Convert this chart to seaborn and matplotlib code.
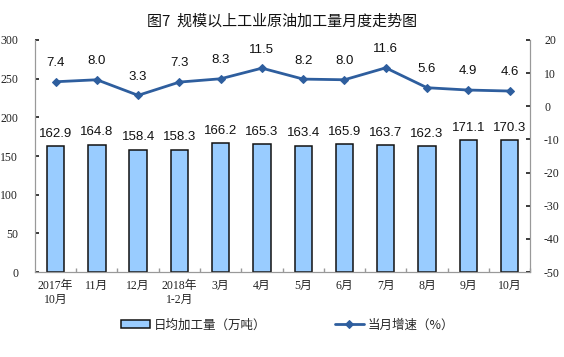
import numpy as np
import pandas as pd
import seaborn as sns
import matplotlib.pyplot as plt

months = ["2017年\n10月", "11月", "12月", "2018年\n1-2月", "3月", "4月",
          "5月", "6月", "7月", "8月", "9月", "10月"]
daily_output = [162.9, 164.8, 158.4, 158.3, 166.2, 165.3, 163.4, 165.9, 163.7, 162.3, 171.1, 170.3]
growth = [7.4, 8.0, 3.3, 7.3, 8.3, 11.5, 8.2, 8.0, 11.6, 5.6, 4.9, 4.6]

sns.set_theme(style="white")
plt.rcParams['font.family'] = ['Liberation Serif', 'Noto Sans CJK SC', 'DejaVu Sans']
plt.rcParams['axes.unicode_minus'] = False

df = pd.DataFrame({"month": months, "output": daily_output, "growth": growth})

fig = plt.figure(figsize=(5.64, 3.57), dpi=100)
ax = fig.add_axes([0.062, 0.238, 0.878, 0.650])

sns.barplot(data=df, x="month", y="output", ax=ax, color="#99CCFF",
            edgecolor="#111111", linewidth=1.1, width=0.42, saturation=1,
            label="日均加工量（万吨）")
ax.set_ylim(0, 300)
ax.set_yticks(np.arange(0, 301, 50))
ax.set_xlabel("")
ax.set_ylabel("")
for i, v in enumerate(daily_output):
    ax.text(i, v + 8, f"{v:.1f}", ha="center", va="bottom", fontsize=9.5,
            family=["Liberation Sans", "DejaVu Sans"], color="#111111")

ax2 = ax.twinx()
x = np.arange(len(months))
sns.lineplot(x=x, y=growth, ax=ax2, color="#2E5E9E", linewidth=2,
             marker="D", markersize=4.5, markeredgecolor="#2E5E9E",
             label="当月增速（%）")
ax2.set_ylim(-50, 20)
ax2.set_yticks(np.arange(-50, 21, 10))
for i, v in enumerate(growth):
    ax2.text(i, v + 3.8, f"{v:.1f}", ha="center", va="bottom", fontsize=9.5,
             family=["Liberation Sans", "DejaVu Sans"], color="#111111")

for a in (ax, ax2):
    a.spines["top"].set_visible(False)
    for s in ("left", "right", "bottom"):
        a.spines[s].set_color("#999999")
        a.spines[s].set_linewidth(0.8)
ax.tick_params(axis="y", direction="in", length=3, labelsize=8.5,
               colors="#222222", pad=12)
ax2.tick_params(axis="y", direction="in", length=3, labelsize=8.5,
                colors="#222222", pad=10)
ax.tick_params(axis="x", length=0, labelsize=8.5, colors="#222222", pad=6)
ax.set_xticks(np.arange(len(months)) + 0.5, minor=True)
ax.tick_params(axis="x", which="minor", direction="in", length=3,
               color="#999999", bottom=True)
ax.set_xlim(-0.5, len(months) - 0.5)

h1, l1 = ax.get_legend_handles_labels()
h2, l2 = ax2.get_legend_handles_labels()
for a in (ax, ax2):
    if a.get_legend():
        a.get_legend().remove()
fig.legend(h1 + h2, l1 + l2, loc="center", ncol=2, frameon=False,
           bbox_to_anchor=(0.51, 0.09), columnspacing=5.5, handlelength=2.3,
           handletextpad=0.3,
           prop={"family": ["Noto Sans CJK SC"], "size": 9})

fig.suptitle("图7  规模以上工业原油加工量月度走势图", y=0.94, va="center",
             fontsize=10.8, fontweight="medium",
             family=["Noto Sans CJK SC"], color="#111111")

fig.savefig("out.png", dpi=100, facecolor="white")
